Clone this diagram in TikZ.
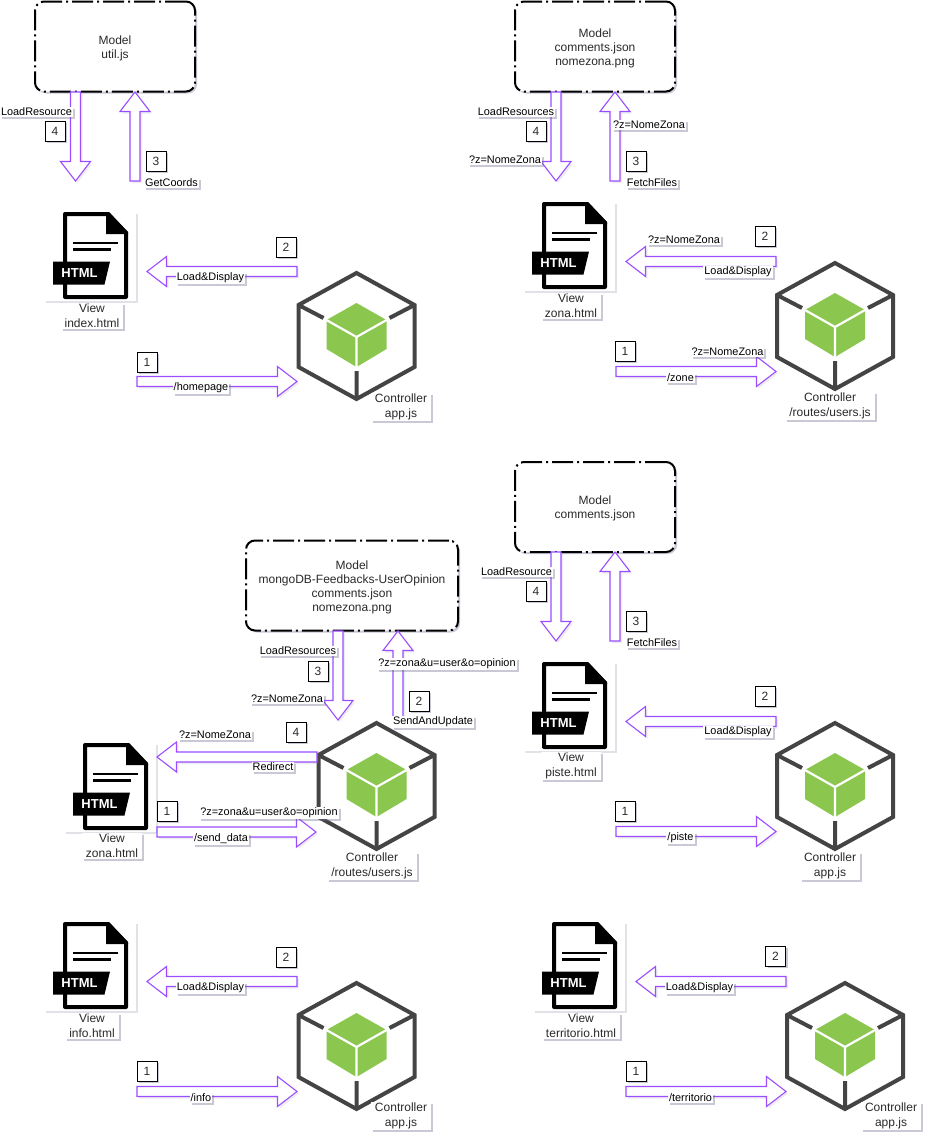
\documentclass[tikz,border=0pt]{standalone}
\usepackage{fontspec}
\setmainfont{Liberation Sans}
\usetikzlibrary{calc,shadows}
\definecolor{arrowpurple}{HTML}{9B4DFF}
\definecolor{cubegrey}{HTML}{444444}
\definecolor{cubegreen}{HTML}{8BC64F}
\definecolor{txt}{HTML}{2A2A2A}
\definecolor{shade}{HTML}{6A6A90}
\tikzset{
  softshadow/.style={drop shadow={shadow xshift=2pt,shadow yshift=-2pt,opacity=.36,fill=shade}},
  modelbox/.style={draw=black,line width=2pt,rounded corners=9pt,fill=white,softshadow,
    dash pattern=on 21pt off 4pt on 2pt off 4pt,align=center,text=txt,font=\fontsize{12}{14}\selectfont,inner sep=0pt},
  caption/.style={fill=white,softshadow,align=center,text=txt,font=\fontsize{12}{15.3}\selectfont,inner xsep=4pt,inner ysep=1pt},
  flowlabel/.style={fill=white,softshadow,text=black,font=\fontsize{10.9}{12}\selectfont,inner xsep=1pt,inner ysep=1pt},
  badge/.style={draw=black,line width=.8pt,fill=white,softshadow,minimum size=20pt,inner sep=0pt,text=txt,font=\fontsize{12}{14}\selectfont},
  blockline/.style={draw=arrowpurple,line width=1.1pt,fill=white,line join=miter,
    drop shadow={shadow xshift=2pt,shadow yshift=-2pt,opacity=.12,fill=shade}},
}
% name, start, end
\newcommand{\blockarrow}[3]{%
  \coordinate (#1-s) at (#2);
  \coordinate (#1-e) at (#3);
  \coordinate (#1-h) at ($(#1-e)!19.5pt!(#1-s)$);
  \path[blockline] ($(#1-s)!5pt!90:(#1-e)$) -- ($(#1-h)!5pt!90:(#1-e)$) -- ($(#1-h)!15pt!90:(#1-e)$)
    -- (#1-e) -- ($(#1-h)!15pt!-90:(#1-e)$) -- ($(#1-h)!5pt!-90:(#1-e)$) -- ($(#1-s)!5pt!-90:(#1-e)$) -- cycle;
}
% name, dx, dy : html document icon
\newcommand{\htmlicon}[3]{%
  \begin{scope}[shift={(#2,#3)}]
    \node[fill=white,drop shadow={shadow xshift=1.5pt,shadow yshift=-1.5pt,opacity=.2,fill=shade},minimum width=92pt,minimum height=89pt,inner sep=0pt,anchor=north west] (#1) at (44,212) {};
    \draw[line width=4pt,black,fill=white,line join=round] (65,214) -- (108,214) -- (126,233) -- (126,297) -- (65,297) -- cycle;
    \fill[black] (106,212) -- (109,212) -- (128,232) -- (128,234) -- (106,234) -- cycle;
    \draw[line width=2.6pt,black] (73,243) -- (118,243) (73,249.5) -- (111,249.5);
    \fill[black] (53,261.5) -- (110,261.5) -- (104.5,284.5) -- (53,284.5) -- cycle;
    \node[text=white,font=\bfseries\fontsize{13}{14}\selectfont,inner sep=0pt] (#1-tag) at (79.5,273.5) {HTML};
  \end{scope}
}
% name, cx, cy : cube icon
\newcommand{\cubeicon}[3]{%
  \begin{scope}[shift={(#2,#3)}]
    \coordinate (#1) at (0,0);
    \fill[cubegreen] (0,-32) -- (30,-15) -- (30,14) -- (0,32) -- (-30,14) -- (-30,-15) -- cycle;
    \draw[white,line width=2.2pt] (-31,-15.5) -- (0,2) -- (31,-15.5) (0,2) -- (0,33);
    \draw[cubegrey,line width=4pt,line join=miter] (0,-62) -- (58,-30) -- (58,32) -- (0,64) -- (-58,32) -- (-58,-30) -- cycle;
    \draw[cubegrey,line width=4pt] (-58,-30) -- (-33,-17) (58,-30) -- (33,-17) (0,64) -- (0,36);
  \end{scope}
}
\newcommand{\modelnode}[6]{\node[modelbox,minimum width=#4pt,minimum height=90pt] (#1) at (#2,#3) {\rule{0pt}{12.4pt}#5};}
\newcommand{\flbl}[4]{\node[flowlabel] (#1) at (#2,#3) {#4};}
\newcommand{\bdg}[4]{\node[badge] (#1) at (#2,#3) {#4};}
\newcommand{\cpt}[4]{\node[caption] (#1) at (#2,#3) {#4};}
\begin{document}
\begin{tikzpicture}[x=1pt,y=-1pt]
\useasboundingbox (0,0) rectangle (937,1143);
\fill[white] (0,0) rectangle (937,1143);

%% Top left
\modelnode{ma}{115}{46.5}{160}{Model\\util.js}{}
\htmlicon{va}{0}{0}
\cubeicon{ca}{356.5}{335}
\cpt{cva}{92}{316}{View\\index.html}
\cpt{cca}{401}{407}{Controller\\app.js}
\blockarrow{a4}{75.5,92}{75.5,181}
\blockarrow{a3}{135,181}{135,92}
\blockarrow{a2}{297,271.5}{147,271.5}
\blockarrow{a1}{137,381.5}{297,381.5}
\flbl{la4}{36.5}{112}{LoadResource}
\flbl{la3}{171.5}{183}{GetCoords}
\flbl{la2}{210.5}{278}{Load\&Display}
\flbl{la1}{201}{388}{/homepage}
\bdg{ba4}{55}{131}{4}
\bdg{ba3}{156}{161}{3}
\bdg{ba2}{286}{247}{2}
\bdg{ba1}{147}{362}{1}

%% Top right
\modelnode{mb}{595}{46.5}{160}{Model\\comments.json\\nomezona.png}{}
\htmlicon{vb}{479}{-10}
\cubeicon{cb}{835}{325}
\cpt{cvb}{571}{306}{View\\zona.html}
\cpt{ccb}{830}{406}{Controller\\/routes/users.js}
\blockarrow{b4}{556,92}{556,181}
\blockarrow{b3}{615,181}{615,92}
\blockarrow{b2}{776,261.5}{626,261.5}
\blockarrow{b1}{616,371.5}{776,371.5}
\flbl{lb4}{516}{112}{LoadResources}
\flbl{lb4z}{505}{160}{?z=NomeZona}
\flbl{lb3z}{649}{125}{?z=NomeZona}
\flbl{lb3}{652}{183}{FetchFiles}
\flbl{lb2z}{684}{240}{?z=NomeZona}
\flbl{lb2}{738}{272}{Load\&Display}
\flbl{lb1z}{727.5}{352}{?z=NomeZona}
\flbl{lb1}{680.5}{378}{/zone}
\bdg{bb4}{536}{131}{4}
\bdg{bb3}{636}{161}{3}
\bdg{bb2}{765}{236}{2}
\bdg{bb1}{625}{351}{1}

%% Middle: mongo
\modelnode{mc}{352}{585.5}{212}{Model\\mongoDB-Feedbacks-UserOpinion\\comments.json\\nomezona.png}{}
\htmlicon{vc}{20}{531}
\cubeicon{cc}{376.5}{785}
\cpt{cvc}{112}{846}{View\\zona.html}
\cpt{ccc}{372}{866}{Controller\\/routes/users.js}
\blockarrow{c3}{338,631}{338,720}
\blockarrow{c2}{398,720}{398,631}
\blockarrow{c4}{317,757}{157,757}
\blockarrow{c1}{157,832}{316,832}
\flbl{lc3}{298}{651}{LoadResources}
\flbl{lc3z}{287}{699}{?z=NomeZona}
\flbl{lc2z}{447}{664}{?z=zona\&u=user\&o=opinion}
\flbl{lc2}{433}{722}{SendAndUpdate}
\flbl{lc4z}{215}{735}{?z=NomeZona}
\flbl{lc4}{273}{767}{Redirect}
\flbl{lc1z}{269}{813}{?z=zona\&u=user\&o=opinion}
\flbl{lc1}{221}{839}{/send\_data}
\bdg{bc3}{318}{671}{3}
\bdg{bc2}{419}{701}{2}
\bdg{bc4}{296}{732}{4}
\bdg{bc1}{167}{811}{1}

%% Middle right: piste
\modelnode{md}{595}{507}{160}{Model\\comments.json}{}
\htmlicon{vd}{479}{450}
\cubeicon{cd}{835}{785}
\cpt{cvd}{571}{766}{View\\piste.html}
\cpt{ccd}{830}{866}{Controller\\app.js}
\blockarrow{d4}{556,552}{556,641}
\blockarrow{d3}{615,641}{615,552}
\blockarrow{d2}{776,721.5}{626,721.5}
\blockarrow{d1}{616,831.5}{776,831.5}
\flbl{ld4}{516.5}{572}{LoadResource}
\flbl{ld3}{652}{643}{FetchFiles}
\flbl{ld2}{738}{732}{Load\&Display}
\flbl{ld1}{680.5}{838}{/piste}
\bdg{bd4}{536}{591}{4}
\bdg{bd3}{636}{621}{3}
\bdg{bd2}{765}{696}{2}
\bdg{bd1}{625}{811}{1}

%% Bottom left: info
\htmlicon{ve}{0}{710}
\cubeicon{ce}{356.5}{1045}
\cpt{cve}{92}{1026}{View\\info.html}
\cpt{cce}{401}{1116}{Controller\\app.js}
\blockarrow{e2}{297,981.5}{147,981.5}
\blockarrow{e1}{137,1091.5}{297,1091.5}
\flbl{le2}{210.5}{988}{Load\&Display}
\flbl{le1}{201}{1098}{/info}
\bdg{be2}{286}{957}{2}
\bdg{be1}{147}{1071}{1}

%% Bottom right: territorio
\htmlicon{vf}{489}{710}
\cubeicon{cf}{845}{1045}
\cpt{cvf}{581}{1026}{View\\territorio.html}
\cpt{ccf}{891}{1116}{Controller\\app.js}
\blockarrow{f2}{786,981.5}{636,981.5}
\blockarrow{f1}{626,1091.5}{786,1091.5}
\flbl{lf2}{699.5}{988}{Load\&Display}
\flbl{lf1}{690.5}{1098}{/territorio}
\bdg{bf2}{775.5}{956}{2}
\bdg{bf1}{636}{1071}{1}
\end{tikzpicture}
\end{document}
